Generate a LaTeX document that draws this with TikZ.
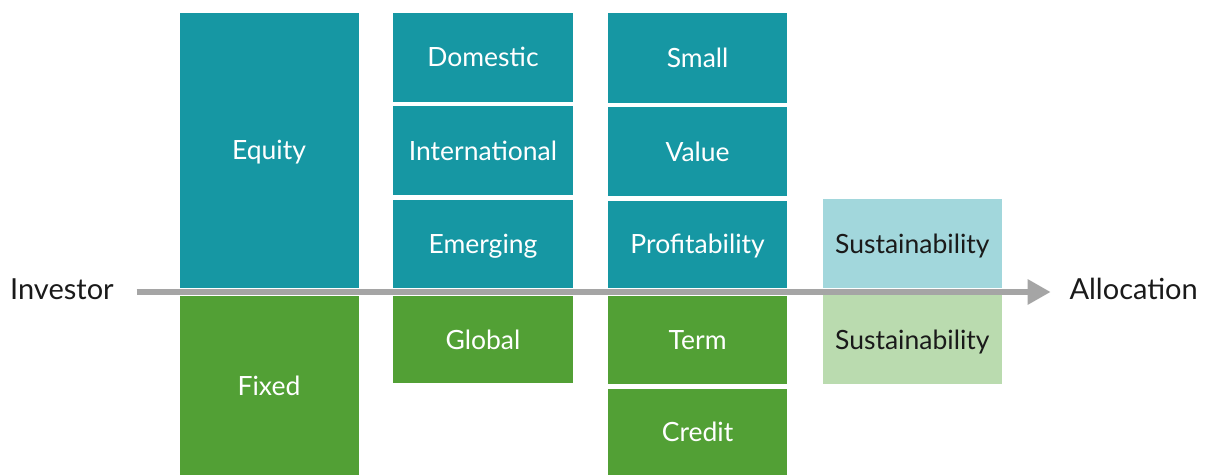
\documentclass[tikz,border=0pt]{standalone}
\usepackage{fontspec}
\setmainfont{Lato}
\usetikzlibrary{arrows.meta}
\definecolor{teal1}{HTML}{1697A3}
\definecolor{green1}{HTML}{52A035}
\definecolor{tealL}{HTML}{A2D7DC}
\definecolor{greenL}{HTML}{BADBAF}
\definecolor{arrowgray}{HTML}{A5A5A5}
\definecolor{ink}{HTML}{1A1A1A}
\tikzset{
  blk/.style={inner sep=0pt, draw=none, text height=19pt, text depth=0pt,
    font=\fontsize{26.5}{30}\selectfont},
  eq/.style={blk, fill=teal1, text=white},
  fx/.style={blk, fill=green1, text=white},
  eqL/.style={blk, fill=tealL, text=ink},
  fxL/.style={blk, fill=greenL, text=ink},
  endlabel/.style={inner sep=0pt, text=ink, text height=21pt, text depth=0pt,
    font=\fontsize{29}{33}\selectfont},
  flow/.style={line width=6.5pt, arrowgray, -{Triangle[length=23pt,width=24pt]}}
}
\begin{document}
\begin{tikzpicture}[x=1pt,y=-1pt]
\useasboundingbox (0,0) rectangle (1207,475);
% asset class column
\node[eq, minimum width=179pt, minimum height=275.3pt] (equity) at (269,150.35) {Equity};
\node[fx, minimum width=179pt, minimum height=179pt] (fixed) at (269,385.5) {Fixed};
% region column
\node[eq, minimum width=180pt, minimum height=88.8pt] (dom) at (483,57.1) {Domestic};
\node[eq, minimum width=180pt, minimum height=89pt] (intl) at (483,150.5) {International};
\node[eq, minimum width=180pt, minimum height=88.5pt] (emg) at (483,243.75) {Emerging};
\node[fx, minimum width=180pt, minimum height=87pt] (glob) at (483,339.5) {Global};
% factor column
\node[eq, minimum width=179pt, minimum height=90pt] (small) at (697.6,57.7) {Small};
\node[eq, minimum width=179pt, minimum height=88.7pt] (value) at (697.6,151.65) {Value};
\node[eq, minimum width=179pt, minimum height=87.3pt] (prof) at (697.6,244.35) {Profitability};
\node[fx, minimum width=179pt, minimum height=88.3pt] (term) at (697.6,340.15) {Term};
\node[fx, minimum width=179pt, minimum height=86pt] (credit) at (697.6,432) {Credit};
% sustainability column
\node[eqL, minimum width=179pt, minimum height=88.7pt] (susE) at (912.3,243.65) {Sustainability};
\node[fxL, minimum width=179pt, minimum height=89pt] (susF) at (912.3,339.5) {Sustainability};
% flow from investor to allocation
\node[endlabel, anchor=west] (inv) at (10,288.5) {Investor};
\node[endlabel, anchor=east] (alloc) at (1198,288.5) {Allocation};
\coordinate (flowS) at (136.7,292);
\coordinate (flowE) at (1050.7,292);
\draw[flow] (flowS) -- (flowE);
\end{tikzpicture}
\end{document}
